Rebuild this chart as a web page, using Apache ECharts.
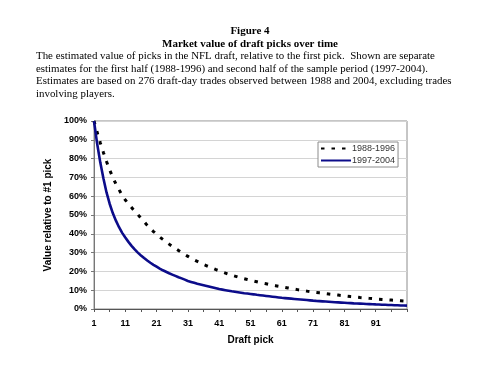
<!DOCTYPE html>
<html>
<head>
<meta charset="utf-8">
<script src="https://cdn.jsdelivr.net/npm/echarts@6/dist/echarts.min.js"></script>
<style>
html,body{margin:0;padding:0;background:#fff;}
#chart{width:500px;height:374px;}
</style>
</head>
<body>
<div id="chart"></div>
<script>
// Draft picks 1..101
const picks = [];
for (let i = 1; i <= 101; i++) picks.push(String(i));

const yTicks = [0, 10, 20, 30, 40, 50, 60, 70, 80, 90, 100];

const seriesNames = ['1988-1996', '1997-2004'];

// Value relative to #1 pick (%), 1988-1996 (dotted)
const value1988 = [
  100, 94, 88.5, 83.3, 78.5, 74, 70, 66.5, 63.5, 60.5,
  58, 56, 54, 52, 50.3, 48.3, 46.5, 44.5, 42.8, 41.2,
  39.8, 38.3, 37, 35.7, 34.5, 33.3, 32.2, 31.1, 30, 29,
  28, 27, 26.1, 25.3, 24.5, 23.7, 23, 22.3, 21.6, 20.9,
  20.3, 19.7, 19.1, 18.5, 18, 17.5, 17, 16.5, 16.1, 15.7,
  15.3, 14.9, 14.5, 14.1, 13.7, 13.4, 13.0, 12.7, 12.4, 12.1,
  11.8, 11.5, 11.2, 10.9, 10.6, 10.3, 10.0, 9.8, 9.5, 9.2,
  9.0, 8.8, 8.6, 8.4, 8.2, 8.0, 7.8, 7.6, 7.4, 7.2,
  7.0, 6.8, 6.6, 6.45, 6.3, 6.1, 5.95, 5.8, 5.65, 5.5,
  5.35, 5.2, 5.1, 5.0, 4.85, 4.75, 4.6, 4.5, 4.4, 4.3,
  4.2
];

// Value relative to #1 pick (%), 1997-2004 (solid)
const value1997 = [
  100, 88, 78, 69.5, 62, 56, 51, 47, 43.5, 40.5,
  38, 35.7, 33.6, 31.7, 30, 28.5, 27.1, 25.8, 24.6, 23.5,
  22.5, 21.5, 20.6, 19.8, 19, 18.3, 17.6, 16.9, 16.3, 15.6,
  14.9, 14.4, 13.9, 13.4, 13.0, 12.6, 12.2, 11.8, 11.4, 11.0,
  10.6, 10.3, 10.0, 9.7, 9.4, 9.15, 8.9, 8.65, 8.4, 8.2,
  8.0, 7.8, 7.55, 7.35, 7.15, 6.95, 6.75, 6.55, 6.35, 6.15,
  5.95, 5.8, 5.65, 5.5, 5.35, 5.2, 5.05, 4.9, 4.75, 4.6,
  4.45, 4.32, 4.2, 4.08, 3.96, 3.84, 3.72, 3.6, 3.5, 3.4,
  3.3, 3.2, 3.1, 3.0, 2.92, 2.84, 2.76, 2.68, 2.6, 2.52,
  2.44, 2.37, 2.3, 2.23, 2.16, 2.09, 2.02, 1.96, 1.9, 1.84,
  1.78
];

const figureTitle = 'Figure 4';
const figureSubtitle = 'Market value of draft picks over time';
const captionLines = [
  'The estimated value of picks in the NFL draft, relative to the first pick.  Shown are separate',
  'estimates for the first half (1988-1996) and second half of the sample period (1997-2004).',
  'Estimates are based on 276 draft-day trades observed between 1988 and 2004, excluding trades',
  'involving players.'
];
const xAxisTitle = 'Draft pick';
const yAxisTitle = 'Value relative to #1 pick';

const serif = '"Times New Roman", "Liberation Serif", serif';
const sans = 'Arial, "Liberation Sans", sans-serif';

const chart = echarts.init(document.getElementById('chart'), null, {renderer: 'canvas'});

const graphics = [
  {type: 'text', left: 'center', top: 26, style: {text: figureTitle, font: 'bold 11px ' + serif, fill: '#000'}},
  {type: 'text', left: 'center', top: 39, style: {text: figureSubtitle, font: 'bold 11px ' + serif, fill: '#000'}}
];
captionLines.forEach(function (t, i) {
  graphics.push({type: 'text', left: 36, top: 51 + i * 12.5, style: {text: t, font: '10.9px ' + serif, fill: '#000'}});
});

chart.setOption({
  animation: false,
  graphic: graphics,
  grid: {left: 94, right: 93, top: 121, bottom: 65, show: true, borderColor: '#8c8c8c', borderWidth: 1, backgroundColor: 'transparent'},
  legend: {
    orient: 'vertical', left: 318, top: 142,
    data: seriesNames,
    backgroundColor: '#fff', borderColor: '#8c8c8c', borderWidth: 1,
    padding: [2, 3, 2, 2], itemGap: 3, itemWidth: 30, itemHeight: 10,
    itemStyle: {opacity: 0},
    textStyle: {fontFamily: sans, fontSize: 9, color: '#333', padding: [0, 0, 0, -4]}
  },
  xAxis: {
    type: 'category', data: picks, boundaryGap: false,
    name: xAxisTitle, nameLocation: 'middle', nameGap: 26,
    nameTextStyle: {fontFamily: sans, fontSize: 10, fontWeight: 'bold', color: '#000'},
    axisLine: {lineStyle: {color: '#555', width: 1}},
    axisTick: {show: true, length: 3, interval: function (i) { return i % 5 === 0; }, lineStyle: {color: '#555'}},
    axisLabel: {
      interval: function (i) { return i % 10 === 0 && i < 100; },
      fontFamily: sans, fontSize: 9, fontWeight: 'bold', color: '#000', margin: 10
    },
    splitLine: {show: false}
  },
  yAxis: {
    type: 'value', min: 0, max: 100, interval: 10,
    name: yAxisTitle, nameLocation: 'middle', nameGap: 35, nameRotate: 90,
    nameTextStyle: {fontFamily: sans, fontSize: 10, fontWeight: 'bold', color: '#000'},
    axisLine: {show: true, lineStyle: {color: '#777', width: 1}},
    axisTick: {show: true, length: 3, lineStyle: {color: '#777'}},
    axisLabel: {
      formatter: function (v) { return v + '%'; },
      fontFamily: sans, fontSize: 9, fontWeight: 'bold', color: '#000', margin: 7
    },
    splitLine: {show: true, lineStyle: {color: '#d4d4d4', width: 1}}
  },
  series: [
    {
      name: seriesNames[0], type: 'line', data: value1988, symbol: 'none', smooth: false,
      lineStyle: {color: '#000', width: 3, type: [3.5, 7], cap: 'butt'},
      itemStyle: {color: '#000'}
    },
    {
      name: seriesNames[1], type: 'line', data: value1997, symbol: 'none', smooth: false,
      lineStyle: {color: '#0c0c8a', width: 2.6},
      itemStyle: {color: '#0c0c8a'}
    }
  ]
});
</script>
</body>
</html>
